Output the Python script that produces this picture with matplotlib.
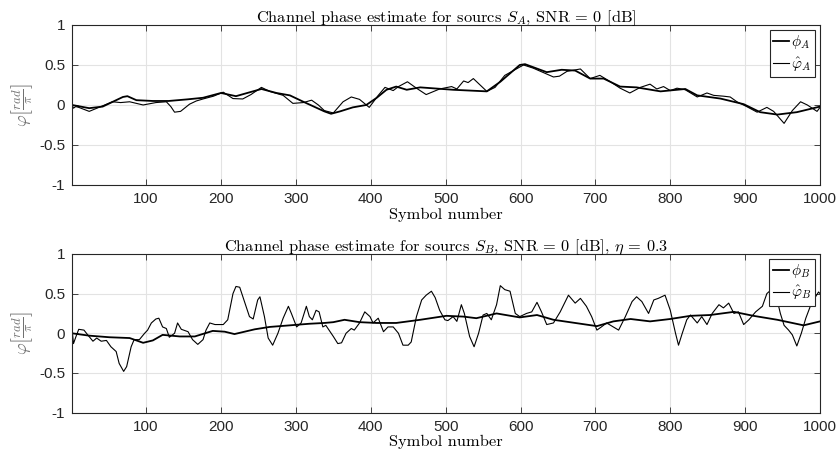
import matplotlib
matplotlib.use("Agg")
import matplotlib.pyplot as plt

plt.rcParams["mathtext.fontset"] = "cm"

# values, symbol number vs phase [rad/pi]
phiA_x = [1, 24, 42, 69, 75, 87, 109, 130, 155, 176, 200, 220, 254, 274, 292, 310,
          338, 347, 359, 376, 394, 408, 421, 434, 448, 466, 510, 555, 573, 599, 606,
          635, 655, 673, 693, 711, 733, 755, 787, 820, 836, 867, 898, 920, 943, 969, 1000]
phiA_y = [0.0, -0.04, -0.02, 0.10, 0.11, 0.06, 0.05, 0.05, 0.07, 0.09, 0.15, 0.11,
          0.20, 0.15, 0.12, 0.04, -0.08, -0.11, -0.08, -0.03, 0.0, 0.09, 0.19, 0.23,
          0.19, 0.22, 0.19, 0.17, 0.29, 0.50, 0.51, 0.41, 0.44, 0.43, 0.33, 0.33, 0.23,
          0.22, 0.17, 0.20, 0.12, 0.08, 0.01, -0.09, -0.12, -0.09, -0.02]

estA_x = [1, 3, 6, 10, 24, 37, 55, 66, 78, 96, 113, 127, 133, 138, 146, 150, 158, 167,
          176, 190, 203, 216, 229, 240, 254, 265, 283, 296, 310, 321, 330, 338, 350,
          363, 374, 385, 398, 410, 419, 430, 437, 449, 461, 474, 492, 508, 515, 524,
          530, 537, 555, 566, 579, 604, 617, 644, 652, 662, 680, 693, 706, 720, 733,
          746, 760, 773, 782, 791, 800, 809, 820, 836, 849, 858, 871, 880, 889, 902,
          916, 929, 938, 952, 963, 974, 983, 996, 1000]
estA_y = [0.0, -0.04, -0.02, -0.03, -0.08, -0.03, 0.04, 0.03, 0.04, 0.0, 0.03, 0.04,
          -0.02, -0.09, -0.08, -0.05, 0.01, 0.05, 0.075, 0.11, 0.16, 0.08, 0.075, 0.13,
          0.22, 0.17, 0.12, 0.02, 0.03, 0.06, 0.0, -0.07, -0.10, 0.04, 0.10, 0.07, -0.03,
          0.12, 0.22, 0.18, 0.23, 0.29, 0.21, 0.13, 0.20, 0.23, 0.20, 0.30, 0.28, 0.33,
          0.17, 0.22, 0.37, 0.50, 0.46, 0.35, 0.36, 0.42, 0.45, 0.33, 0.37, 0.29, 0.21,
          0.15, 0.22, 0.26, 0.20, 0.23, 0.18, 0.21, 0.19, 0.10, 0.15, 0.12, 0.11, 0.10,
          0.04, -0.02, -0.09, -0.03, -0.08, -0.23, -0.07, 0.04, 0.0, -0.08, -0.03]

phiB_x = [1, 24, 51, 78, 96, 109, 122, 145, 165, 189, 205, 218, 245, 265, 292, 318,
          338, 350, 365, 385, 408, 434, 466, 501, 524, 541, 568, 599, 622, 644, 673,
          702, 724, 747, 773, 800, 827, 853, 885, 911, 943, 978, 1000]
phiB_y = [0.0, -0.03, -0.05, -0.06, -0.12, -0.09, -0.02, -0.04, -0.04, 0.03, 0.02,
          -0.01, 0.05, 0.08, 0.10, 0.12, 0.13, 0.14, 0.17, 0.14, 0.13, 0.13, 0.17, 0.22,
          0.21, 0.19, 0.25, 0.20, 0.23, 0.17, 0.13, 0.09, 0.15, 0.18, 0.15, 0.18, 0.22,
          0.23, 0.27, 0.22, 0.17, 0.10, 0.15]

estB_x = [1, 3, 6, 10, 17, 22, 29, 34, 40, 47, 53, 60, 64, 70, 74, 80, 84, 91, 98, 102,
          107, 113, 117, 122, 127, 131, 138, 142, 147, 156, 162, 169, 176, 180, 185,
          192, 203, 209, 216, 220, 225, 232, 238, 243, 249, 252, 258, 263, 269, 276,
          283, 290, 294, 301, 307, 314, 318, 322, 327, 331, 336, 340, 350, 356, 361,
          367, 374, 378, 385, 392, 399, 403, 410, 417, 423, 430, 437, 443, 450, 454,
          461, 468, 474, 481, 486, 492, 499, 503, 510, 515, 521, 525, 532, 538, 544,
          550, 555, 561, 568, 573, 579, 586, 593, 599, 608, 615, 622, 628, 635, 644,
          653, 664, 673, 680, 688, 695, 702, 708, 715, 722, 731, 740, 749, 755, 762,
          771, 778, 784, 793, 800, 807, 811, 816, 822, 827, 836, 842, 849, 856, 865,
          871, 878, 885, 891, 898, 905, 914, 923, 929, 935, 942, 947, 952, 958, 963,
          969, 975, 981, 987, 994, 998, 1000]
estB_y = [0.06, -0.13, -0.05, 0.05, 0.04, -0.02, -0.10, -0.06, -0.10, -0.09, -0.17,
          -0.23, -0.38, -0.48, -0.42, -0.17, -0.08, -0.08, 0.0, 0.04, 0.13, 0.18, 0.19,
          0.08, 0.06, -0.05, 0.0, 0.13, 0.05, 0.02, -0.08, -0.14, -0.08, 0.04, 0.13,
          0.11, 0.11, 0.17, 0.50, 0.59, 0.58, 0.38, 0.21, 0.18, 0.42, 0.46, 0.21, -0.06,
          -0.15, 0.0, 0.19, 0.34, 0.25, 0.08, 0.13, 0.34, 0.21, 0.17, 0.29, 0.27, 0.08,
          0.10, -0.04, -0.13, -0.12, 0.0, 0.06, 0.04, 0.13, 0.27, 0.21, 0.13, 0.19, 0.02,
          0.08, 0.08, 0.0, -0.15, -0.15, -0.11, 0.21, 0.42, 0.48, 0.53, 0.45, 0.29, 0.17,
          0.16, 0.21, 0.15, 0.36, 0.25, -0.04, -0.17, 0.0, 0.23, 0.25, 0.17, 0.36, 0.60,
          0.55, 0.53, 0.25, 0.21, 0.25, 0.27, 0.39, 0.27, 0.11, 0.13, 0.27, 0.48, 0.38,
          0.44, 0.34, 0.21, 0.04, 0.08, 0.13, 0.09, 0.04, 0.21, 0.40, 0.46, 0.40, 0.25,
          0.42, 0.44, 0.48, 0.29, 0.0, -0.15, 0.0, 0.17, 0.23, 0.13, 0.21, 0.11, 0.25,
          0.36, 0.32, 0.38, 0.25, 0.27, 0.11, 0.17, 0.27, 0.34, 0.50, 0.55, 0.45, 0.25,
          0.10, 0.04, -0.02, -0.16, 0.0, 0.19, 0.34, 0.46, 0.52, 0.50]

xticks = [100, 200, 300, 400, 500, 600, 700, 800, 900, 1000]
yticks = [-1, -0.5, 0, 0.5, 1]
ytick_labels = ["-1", "-0.5", "0", "0.5", "1"]

titles = [r"Channel phase estimate for sourcs $S_A$, SNR = 0 [dB]",
          r"Channel phase estimate for sourcs $S_B$, SNR = 0 [dB], $\eta$ = 0.3"]
labels = [(r"$\phi_A$", r"$\hat{\varphi}_A$"), (r"$\phi_B$", r"$\hat{\varphi}_B$")]

fig = plt.figure(figsize=(8.39, 4.59), dpi=100)
ax_top = fig.add_axes([0.0858, 0.597, 0.8916, 0.3486])
ax_bot = fig.add_axes([0.0858, 0.101, 0.8916, 0.3458])

series = [(phiA_x, phiA_y, estA_x, estA_y), (phiB_x, phiB_y, estB_x, estB_y)]

for ax, (px, py, ex, ey), title, (l1, l2) in zip([ax_top, ax_bot], series, titles, labels):
    ax.plot(px, py, color="black", linewidth=1.3, label=l1)
    ax.plot(ex, ey, color="black", linewidth=0.8, label=l2)
    ax.set_xlim(1, 1000)
    ax.set_ylim(-1, 1)
    ax.set_xticks(xticks)
    ax.set_xticklabels([str(t) for t in xticks], family="Liberation Sans", fontsize=11)
    ax.set_yticks(yticks)
    ax.set_yticklabels(ytick_labels, family="Liberation Sans", fontsize=11)
    ax.tick_params(direction="in", top=True, right=True, length=4, width=0.6,
                   color="#262626", labelcolor="#262626", pad=5)
    ax.grid(color="#e3e3e3", linewidth=0.8)
    ax.set_axisbelow(True)
    for s in ax.spines.values():
        s.set_color("#262626")
        s.set_linewidth(0.8)
    ax.set_title(title, family="cmr10", fontsize=11.8, pad=2)
    ax.set_xlabel("Symbol number", family="cmr10", fontsize=11.8, labelpad=1)
    ax.set_ylabel(r"$\varphi\left[\frac{rad}{\pi}\right]$", color="#707070",
                  fontsize=13, labelpad=3)
    leg = ax.legend(loc="upper right", fontsize=11, handlelength=1.05,
                    handletextpad=0.15, borderpad=0.2, labelspacing=0.25,
                    borderaxespad=0.35, fancybox=False, framealpha=1)
    leg.get_frame().set_edgecolor("#262626")
    leg.get_frame().set_linewidth(0.8)

fig.savefig("out.png", dpi=100, facecolor="white")
